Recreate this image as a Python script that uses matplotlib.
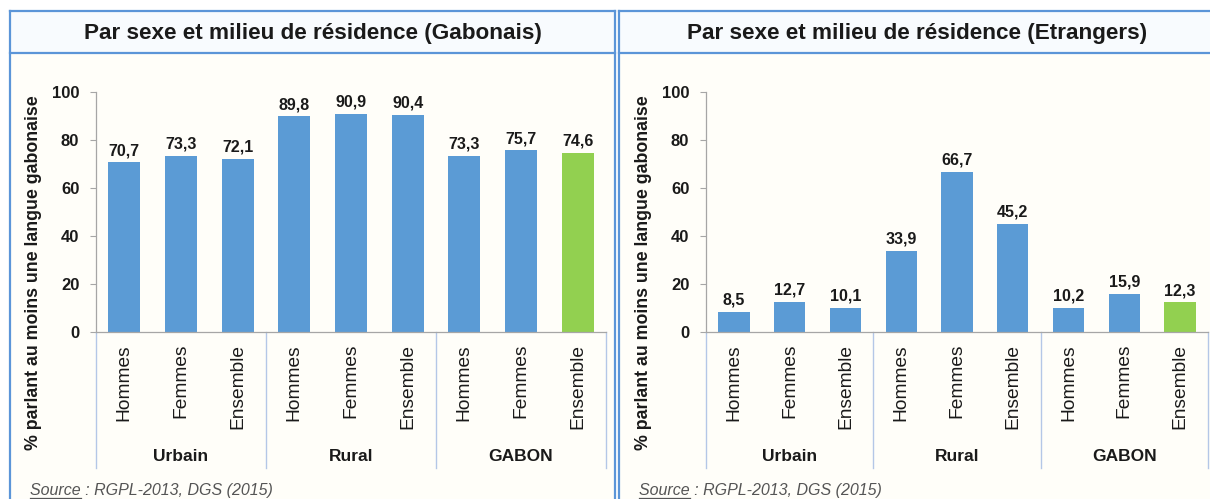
import matplotlib.pyplot as plt
from matplotlib.patches import Rectangle
from matplotlib.lines import Line2D

plt.rcParams["font.family"] = ["Liberation Sans", "DejaVu Sans"]

# data
groups = ["Urbain", "Rural", "GABON"]
sexes = ["Hommes", "Femmes", "Ensemble"]
gabonais = [70.7, 73.3, 72.1, 89.8, 90.9, 90.4, 73.3, 75.7, 74.6]
etrangers = [8.5, 12.7, 10.1, 33.9, 66.7, 45.2, 10.2, 15.9, 12.3]
titles = ["Par sexe et milieu de résidence (Gabonais)",
          "Par sexe et milieu de résidence (Etrangers)"]
ylabel = "% parlant au moins une langue gabonaise"
source = "Source : RGPL-2013, DGS (2015)"

W, H = 1210, 499
BLUE = "#5b9bd5"
GREEN = "#92d050"
BORDER = "#5b95d8"
GRID = "#a6a6a6"

fig = plt.figure(figsize=(W / 100, H / 100), dpi=100)
fig.patch.set_facecolor("white")
renderer = fig.canvas.get_renderer()


def fx(x):
    return x / W


def fy(y):
    return 1 - y / H


def panel(x0, x1, ax_left, ax_right, values, title):
    # panel background + borders
    fig.patches.append(Rectangle((fx(x0), fy(H + 5)), fx(x1 - x0), fy(53) - fy(H + 5),
                                 transform=fig.transFigure, facecolor="#fffef9",
                                 edgecolor="none", zorder=-2))
    fig.patches.append(Rectangle((fx(x0), fy(53)), fx(x1 - x0), fy(11) - fy(53),
                                 transform=fig.transFigure, facecolor="#f8fbfe",
                                 edgecolor="none", zorder=-2))
    for xs, ys in [([x0, x1], [11, 11]), ([x0, x1], [53, 53]),
                   ([x0, x0], [11, H + 5]), ([x1, x1], [11, H + 5])]:
        fig.lines.append(Line2D([fx(v) for v in xs], [fy(v) for v in ys],
                                transform=fig.transFigure, color=BORDER, lw=1.6))
    fig.text(fx((x0 + x1) / 2), fy(33), title, ha="center", va="center",
             fontsize=16.2, fontweight="bold", color="#1a1a1a")
    fig.text(fx(x0 + 24), fy(273), ylabel, rotation=90, ha="center", va="center",
             fontsize=12.8, fontweight="bold", color="#1a1a1a")
    fig.text(fx(x0 + 20), fy(491), source, ha="left", va="center",
             fontsize=11.5, fontstyle="italic", color="#555555")
    # underline under "Source"
    probe = fig.text(fx(x0 + 20), fy(491), "Source", ha="left", va="center",
                     fontsize=11.5, fontstyle="italic", alpha=0)
    bb = probe.get_window_extent(renderer)
    fig.lines.append(Line2D([fx(x0 + 20), fx(x0 + 20 + bb.width)], [fy(498), fy(498)],
                            transform=fig.transFigure, color="#555555", lw=0.9))

    ax = fig.add_axes([fx(ax_left), fy(332), fx(ax_right - ax_left), fy(92) - fy(332)])
    ax.set_facecolor("none")
    n = len(values)
    xs = list(range(n))
    colors = [BLUE] * (n - 1) + [GREEN]
    bars = ax.bar(xs, values, width=0.56, color=colors, zorder=2)
    for b, v in zip(bars, values):
        ax.annotate(f"{v:.1f}".replace(".", ","), (b.get_x() + b.get_width() / 2, v),
                    xytext=(0, 3), textcoords="offset points", ha="center", va="bottom",
                    fontsize=11.5, fontweight="bold", color="#1a1a1a")
    ax.set_xlim(-0.5, n - 0.5)
    ax.set_ylim(0, 100)
    ax.set_yticks(range(0, 101, 20))
    ax.set_yticklabels([str(v) for v in range(0, 101, 20)], fontsize=12,
                       fontweight="bold", color="#1a1a1a")
    ax.tick_params(axis="y", length=4, color=GRID, pad=8)
    ax.set_xticks([])
    for s in ["top", "right"]:
        ax.spines[s].set_visible(False)
    for s in ["left", "bottom"]:
        ax.spines[s].set_color(GRID)
        ax.spines[s].set_linewidth(0.9)

    tr = ax.get_xaxis_transform()
    for i in range(n):
        ax.text(i, -0.05, sexes[i % 3], rotation=90, ha="center", va="top",
                transform=tr, fontsize=13.8, color="#1a1a1a", clip_on=False)
    for g, name in enumerate(groups):
        ax.text(g * 3 + 1, -0.52, name, ha="center", va="center", transform=tr,
                fontsize=12.5, fontweight="bold", color="#1a1a1a", clip_on=False)
    for b in [-0.5, 2.5, 5.5, 8.5]:
        ax.plot([b, b], [0, -0.565], transform=tr, color="#b4c7e7", lw=1.0,
                clip_on=False)
    return ax


panel(10, 615, 96, 606, gabonais, titles[0])
panel(619, 1216, 706, 1208, etrangers, titles[1])

fig.savefig("out.png", dpi=100)
